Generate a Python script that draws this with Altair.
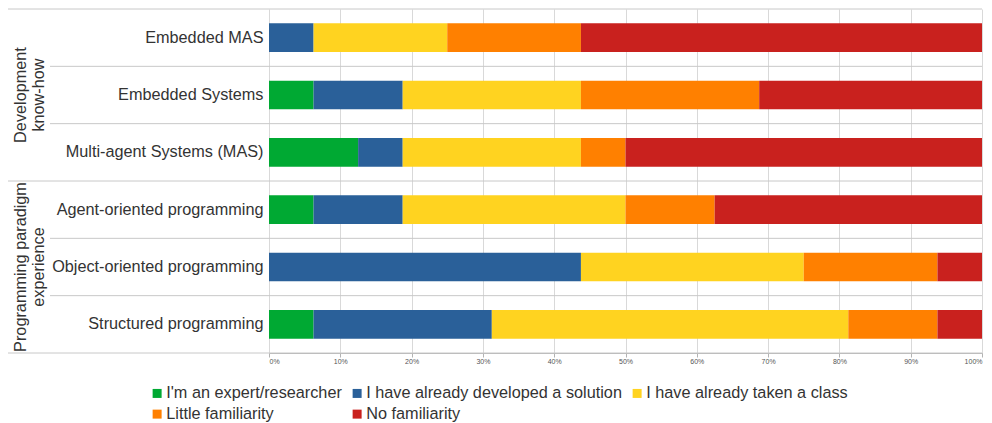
import altair as alt
import pandas as pd

categories = ["Embedded MAS", "Embedded Systems", "Multi-agent Systems (MAS)",
              "Agent-oriented programming", "Object-oriented programming",
              "Structured programming"]
groups = ["Development\nknow-how"] * 3 + ["Programming paradigm\nexperience"] * 3
levels = ["I'm an expert/researcher", "I have already developed a solution",
          "I have already taken a class", "Little familiarity", "No familiarity"]
colors = ["#00a933", "#2a6099", "#ffd320", "#ff8000", "#c9211e"]

expert = [0, 6.25, 12.5, 6.25, 0, 6.25]
developed = [6.25, 12.5, 6.25, 12.5, 43.75, 25]
taken_class = [18.75, 25, 25, 31.25, 31.25, 50]
little = [18.75, 25, 6.25, 12.5, 18.75, 12.5]
no_fam = [56.25, 31.25, 50, 37.5, 6.25, 6.25]
tick_values = [0, 10, 20, 30, 40, 50, 60, 70, 80, 90, 100]

series = [expert, developed, taken_class, little, no_fam]
rows = []
for li, (lev, vals) in enumerate(zip(levels, series)):
    for cat, v in zip(categories, vals):
        rows.append({"category": cat, "level": lev, "idx": li, "value": v})
df = pd.DataFrame(rows)

# group label data: anchored at the middle member of each group
gnames = []
for g in groups:
    if g not in gnames:
        gnames.append(g)
grecs = []
for g in gnames:
    members = [c for c, gg in zip(categories, groups) if gg == g]
    grecs.append({"group": g, "anchor": members[len(members) // 2]})
gdf = pd.DataFrame(grecs)

rdf = pd.DataFrame({
    "category": categories,
    "first": [i == 0 or groups[i] != groups[i - 1] for i in range(len(groups))],
    "last": [i == len(categories) - 1 for i in range(len(categories))],
})

W, H = 713, 344
FS = 16.25
yscale = alt.Scale(domain=categories, paddingInner=0, paddingOuter=0)
LINE = "#c8c8c8"
yaxis = alt.Axis(title=None, domain=False, ticks=False, grid=False,
                 labelFontSize=FS, labelColor="#333333", labelPadding=6,
                 labelLimit=400)


def ycat(field, **kw):
    return alt.Y(field + ":N", scale=yscale, sort=categories, axis=yaxis, **kw)


inner = alt.Chart(rdf).transform_filter("!datum.first").mark_rule(color=LINE).encode(
    y=ycat("category", bandPosition=0), x=alt.value(-219), x2=alt.value(W))
outer = alt.Chart(rdf).transform_filter("datum.first").mark_rule(color=LINE).encode(
    y=ycat("category", bandPosition=0), x=alt.value(-261), x2=alt.value(W))
bottom = alt.Chart(rdf).transform_filter("datum.last").mark_rule(color=LINE).encode(
    y=ycat("category", bandPosition=1), x=alt.value(-261), x2=alt.value(W))

bars = alt.Chart(df).mark_bar(height={"band": 0.5}).encode(
    y=ycat("category"),
    x=alt.X("value:Q", stack="zero", scale=alt.Scale(domain=[0, 100], nice=False),
            axis=alt.Axis(values=tick_values, labelExpr="datum.value + '%'", title=None,
                          grid=True, gridColor="#d9d9d9", domainColor="#b3b3b3",
                          tickColor="#b3b3b3", tickSize=4, labelFontSize=7,
                          labelColor="#555555", labelPadding=0)),
    color=alt.Color("level:N", scale=alt.Scale(domain=levels, range=colors),
                    legend=alt.Legend(title=None, orient="none", legendX=-120, legendY=376,
                                      direction="horizontal", columns=3,
                                      symbolType="square", symbolSize=81,
                                      symbolStrokeWidth=0, labelFontSize=FS,
                                      labelColor="#333333", labelOffset=1,
                                      columnPadding=7, rowPadding=4, labelLimit=400)),
    order=alt.Order("idx:Q"),
)

glabels = alt.Chart(gdf).mark_text(angle=270, fontSize=FS, lineBreak="\n", align="center",
                                   baseline="middle", color="#333333", lineHeight=18).encode(
    y=ycat("anchor"),
    x=alt.value(-248),
    text="group:N",
)

chart = alt.layer(inner, outer, bottom, bars, glabels).properties(
    width=W, height=H, padding={"left": 7, "top": 8, "right": 5, "bottom": 5}
).configure(font="Liberation Sans").configure_view(stroke=None)

chart.save("out.html", embed_options={"renderer": "svg", "actions": False})
